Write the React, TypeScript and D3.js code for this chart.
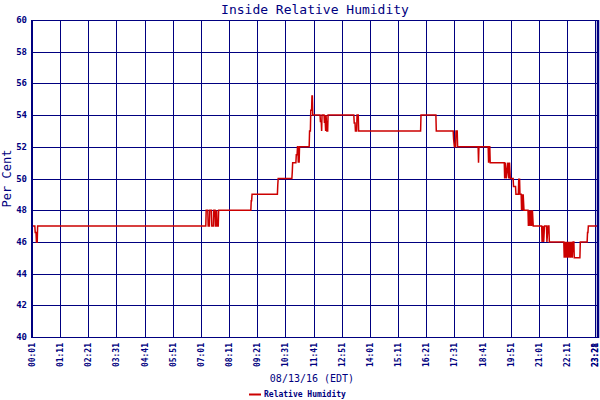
import * as d3 from "d3";

// x axis labels every 70 minutes, plus the last reading
const tickLabels = [
  "00:01", "01:11", "02:21", "03:31", "04:41", "05:51", "07:01", "08:11",
  "09:21", "10:31", "11:41", "12:51", "14:01", "15:11", "16:21", "17:31",
  "18:41", "19:51", "21:01", "22:11", "23:21", "23:28",
];
const yTicks = [40, 42, 44, 46, 48, 50, 52, 54, 56, 58, 60];

// readings (time of day, relative humidity %)
const times = [
  "00:01", "00:08", "00:09", "00:11", "00:12", "00:14", "00:15",
  "07:13", "07:14", "07:18", "07:19", "07:22", "07:23", "07:27", "07:28", "07:32", "07:33", "07:36", "07:37", "07:39", "07:40", "07:41", "07:44", "07:45",
  "09:05", "09:06", "09:07", "09:08",
  "10:11", "10:12", "10:13",
  "10:47", "10:48", "10:49",
  "10:57", "10:58", "11:00", "11:01", "11:02", "11:03", "11:04", "11:05", "11:06",
  "11:30", "11:31", "11:33", "11:34", "11:36", "11:37", "11:38", "11:39",
  "11:57", "11:58", "12:00", "12:01", "12:02",
  "12:07", "12:08", "12:09", "12:11", "12:12", "12:14", "12:16", "12:17",
  "13:21", "13:22", "13:24", "13:25", "13:28", "13:29", "13:32", "13:33",
  "16:07", "16:08", "16:45", "16:46",
  "17:28", "17:29", "17:31", "17:34", "17:35", "17:38", "17:39",
  "18:30", "18:31", "18:32",
  "18:55", "18:56", "18:57", "18:59", "19:00",
  "19:35", "19:36", "19:38", "19:40", "19:44", "19:46", "19:48", "19:50", "19:57",
  "19:58", "20:03", "20:04", "20:10", "20:11", "20:12", "20:13", "20:14", "20:17", "20:18", "20:19", "20:21", "20:22", "20:24",
  "20:34", "20:35", "20:37", "20:39", "20:41", "20:43", "20:45", "20:47",
  "21:08", "21:09", "21:11", "21:13", "21:15", "21:20", "21:21", "21:24", "21:26", "21:27",
  "22:03", "22:04", "22:06", "22:08", "22:10", "22:12", "22:14", "22:16", "22:18", "22:20", "22:22", "22:24", "22:26", "22:28", "22:29",
  "22:43", "22:44", "23:01", "23:02", "23:03", "23:04", "23:28",
];
const humidity = [
  47, 47, 46.6, 46.6, 46, 46, 47,
  47, 48, 48, 47, 47, 48, 48, 47, 47, 48, 48, 47, 47, 48, 47, 47, 48,
  48, 48.6, 48.6, 49,
  49, 49.6, 50,
  50, 50.4, 51,
  51, 51.5, 51.5, 52, 52, 51, 52, 51, 52,
  52, 53, 53, 54.3, 54.3, 55.2, 55.2, 54,
  54, 53.6, 53.6, 53, 54,
  54, 53.5, 54, 53, 54, 53, 53, 54,
  54, 53.5, 53.5, 53, 53, 54, 54, 53,
  53, 54, 54, 53,
  53, 52.5, 52, 52, 53, 53, 52,
  52, 51, 52,
  52, 51, 52, 52, 51,
  51, 50, 51, 50, 51, 50, 51, 50, 50,
  49.5, 49.5, 49, 49, 50, 49, 50, 49, 49, 48, 49, 48, 49, 48,
  48, 47, 48, 47, 48, 47, 48, 47,
  47, 46, 47, 46, 47, 47, 46, 47, 47, 46,
  46, 45, 46, 45, 46, 45, 46, 45, 46, 45, 46, 45, 46, 46, 45,
  45, 46, 46, 46.6, 46.6, 47, 47,
];

const toMin = (s: string) => {
  const [h, m] = s.split(":").map(Number);
  return h * 60 + m;
};

const NAVY = "#000080";
const MONO = "'DejaVu Sans Mono', 'Liberation Mono', monospace";

export default function App() {
  const left = 32;
  const right = 598;
  const top = 20;
  const bottom = 337;

  const x = d3.scaleLinear().domain([toMin("00:01"), toMin("23:28")]).range([left, right]);
  const y = d3.scaleLinear().domain([40, 60]).range([bottom, top]);

  const data = times.map((t, i) => ({ t: toMin(t), v: humidity[i] }));
  const line = d3
    .line<{ t: number; v: number }>()
    .x((d) => x(d.t))
    .y((d) => y(d.v));

  return (
    <svg width={600} height={400} style={{ position: "absolute", left: 0, top: 0, background: "#fff" }}>
      <rect width={600} height={400} fill="#fff" />
      <text x={(left + right) / 2} y={14} textAnchor="middle" fontFamily={MONO} fontSize={13} fill={NAVY}>
        Inside Relative Humidity
      </text>

      {/* horizontal grid */}
      {yTicks.map((v) => (
        <line key={"h" + v} x1={left} x2={right} y1={Math.round(y(v)) + 0.5} y2={Math.round(y(v)) + 0.5} stroke={NAVY} strokeWidth={1} />
      ))}
      {/* vertical grid */}
      {tickLabels.slice(1, -1).map((t) => (
        <line key={"v" + t} x1={Math.round(x(toMin(t))) + 0.5} x2={Math.round(x(toMin(t))) + 0.5} y1={top} y2={bottom} stroke={NAVY} strokeWidth={1} />
      ))}

      <path d={line(data) || ""} fill="none" stroke="#cc0000" strokeWidth={1.5} strokeLinejoin="miter" />

      {/* axes frame */}
      <line x1={left} x2={left} y1={top} y2={bottom + 1} stroke={NAVY} strokeWidth={2} />
      <line x1={right} x2={right} y1={top} y2={bottom + 1} stroke={NAVY} strokeWidth={2.5} />

      {yTicks.map((v) => (
        <text key={"yl" + v} x={27} y={y(v) + 3} textAnchor="end" fontFamily={MONO} fontWeight="bold" fontSize={9} fill={NAVY}>
          {v}
        </text>
      ))}
      <text transform={`translate(11, ${(top + bottom) / 2}) rotate(-90)`} textAnchor="middle" fontFamily={MONO} fontSize={12} fill={NAVY}>
        Per Cent
      </text>

      {tickLabels.map((t, i) => (
        <text
          key={"xl" + i}
          transform={`translate(${Math.min(x(toMin(t)) + 3, 598)}, 343) rotate(-90)`}
          textAnchor="end"
          fontFamily={MONO}
          fontWeight="bold"
          fontSize={8}
          fill={NAVY}
        >
          {t}
        </text>
      ))}

      <text x={312} y={382} textAnchor="middle" fontFamily={MONO} fontSize={10} fill={NAVY}>
        08/13/16 (EDT)
      </text>

      <line x1={249} x2={261} y1={394.5} y2={394.5} stroke="#cc0000" strokeWidth={2} />
      <text x={264} y={397} fontFamily={MONO} fontWeight="bold" fontSize={8} fill={NAVY}>
        Relative Humidity
      </text>
    </svg>
  );
}
